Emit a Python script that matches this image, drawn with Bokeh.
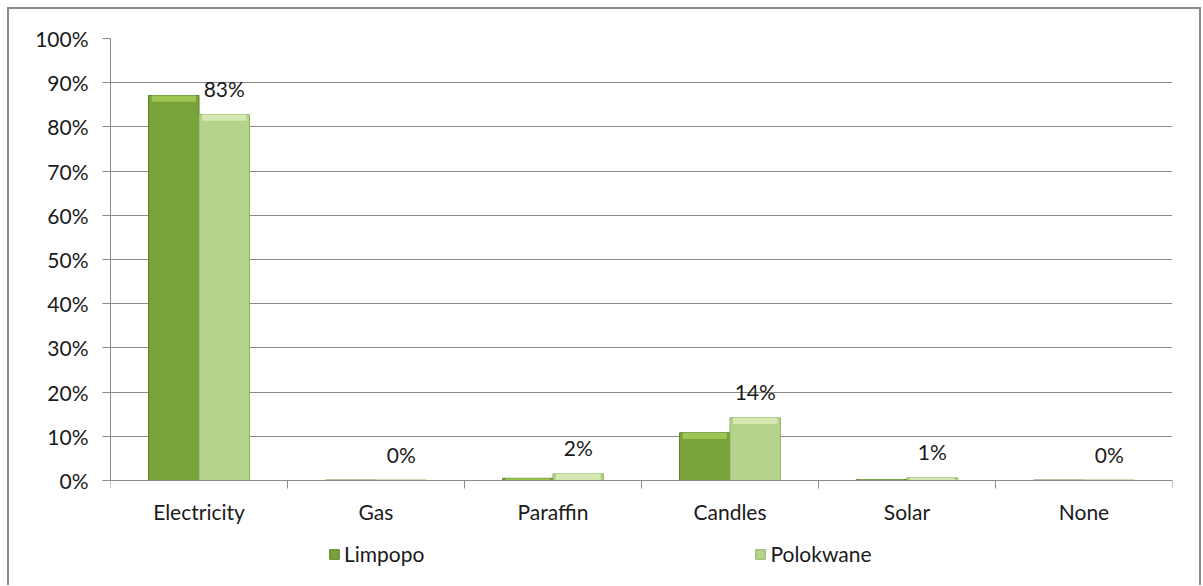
from bokeh.plotting import figure
from bokeh.models import ColumnDataSource, FixedTicker, NumeralTickFormatter, Legend, LegendItem, Column
from bokeh.core.properties import value
from bokeh.embed import file_html
from bokeh.resources import INLINE

categories = ["Electricity", "Gas", "Paraffin", "Candles", "Solar", "None"]
limpopo = [0.871, 0.001, 0.005, 0.108, 0.002, 0.001]
polokwane = [0.828, 0.001, 0.015, 0.142, 0.006, 0.001]
y_ticks = [0.0, 0.1, 0.2, 0.3, 0.4, 0.5, 0.6, 0.7, 0.8, 0.9, 1.0]

FONT = "Lato"
FS = "21px"
TXT = "#1a1a1a"
GRID = "#8a8a8a"
DARK = "#78a23a"
DARK_EDGE = "#5a812b"
DARK_CAP = "#9cc450"
LIGHT = "#b6d38c"
LIGHT_EDGE = "#91b264"
LIGHT_CAP = "#d4e9b2"

centers = [i + 0.5 for i in range(len(categories))]
bw = 0.285
cap = 0.014

# layout in pixels: 100% line at y=38, 0% line at y=480, frame bottom at y=583
PX_PER_UNIT = 442.0
Y_MIN = -(585 - 480) / PX_PER_UNIT

src = ColumnDataSource(dict(
    xl=[c - bw / 2 for c in centers],
    xp=[c + bw / 2 for c in centers],
    lim=limpopo,
    pol=polokwane,
    lim_cap=[max(v - cap, 0) for v in limpopo],
    pol_cap=[max(v - cap, 0) for v in polokwane],
    lab=[f"{round(v * 100):.0f}%" for v in polokwane],
))

p = figure(frame_width=1062, frame_height=547, x_range=(0, 6), y_range=(Y_MIN, 1.0),
           output_backend="svg", toolbar_location=None,
           min_border_left=101, min_border_right=27, min_border_top=29, min_border_bottom=0)
p.outline_line_color = None
p.background_fill_color = "white"

r1 = p.vbar(x="xl", top="lim", width=bw, bottom=0, source=src,
            fill_color=DARK, line_color=DARK_EDGE, line_width=1)
p.vbar(x="xl", top="lim", bottom="lim_cap", width=bw * 0.88, source=src,
       fill_color=DARK_CAP, line_color=None)
r2 = p.vbar(x="xp", top="pol", width=bw, bottom=0, source=src,
            fill_color=LIGHT, line_color=LIGHT_EDGE, line_width=1)
p.vbar(x="xp", top="pol", bottom="pol_cap", width=bw * 0.88, source=src,
       fill_color=LIGHT_CAP, line_color=None)

p.text(x="xp", y="pol", text="lab", source=src, text_align="center",
       text_baseline="middle", y_offset=-26, text_font=value(FONT),
       text_font_size=FS, text_color=TXT)

# x axis drawn at the 0% line
p.xaxis.fixed_location = 0
p.xaxis.ticker = FixedTicker(ticks=centers, minor_ticks=list(range(0, 7)))
p.xaxis.major_label_overrides = {c: n for c, n in zip(centers, categories)}
p.xaxis.major_tick_line_color = None
p.xaxis.major_tick_out = 0
p.xaxis.minor_tick_out = 8
p.xaxis.minor_tick_in = 0
p.xaxis.minor_tick_line_color = GRID
p.xaxis.axis_line_color = GRID
p.xaxis.major_label_standoff = 10
p.xaxis.major_label_text_font = FONT
p.xaxis.major_label_text_font_size = FS
p.xaxis.major_label_text_color = TXT

p.yaxis.ticker = FixedTicker(ticks=y_ticks)
p.yaxis.bounds = (0, 1)
p.yaxis.formatter = NumeralTickFormatter(format="0%")
p.yaxis.axis_line_color = GRID
p.yaxis.major_tick_line_color = GRID
p.yaxis.major_tick_out = 8
p.yaxis.major_tick_in = 0
p.yaxis.minor_tick_line_color = None
p.yaxis.major_label_standoff = 14
p.yaxis.major_label_text_font = FONT
p.yaxis.major_label_text_font_size = FS
p.yaxis.major_label_text_color = TXT

p.xgrid.grid_line_color = None
p.ygrid.grid_line_color = GRID
p.ygrid.ticker = FixedTicker(ticks=y_ticks)

legend = Legend(items=[LegendItem(label="Limpopo", renderers=[r1]),
                       LegendItem(label="Polokwane", renderers=[r2])],
                orientation="horizontal", location=(218, 19),
                spacing=330, glyph_width=12, glyph_height=12,
                label_text_font=FONT, label_text_font_size=FS,
                label_text_color=TXT, border_line_color=None,
                background_fill_alpha=0, label_standoff=4, margin=0, padding=0)
p.add_layout(legend, "center")

layout = Column(p, margin=(7, 0, 0, 7),
                styles={"border-top": "2px solid #8a8a8a",
                        "border-left": "2px solid #8a8a8a",
                        "border-right": "2px solid #8a8a8a"})
open("out.html", "w").write(file_html(layout, INLINE))
